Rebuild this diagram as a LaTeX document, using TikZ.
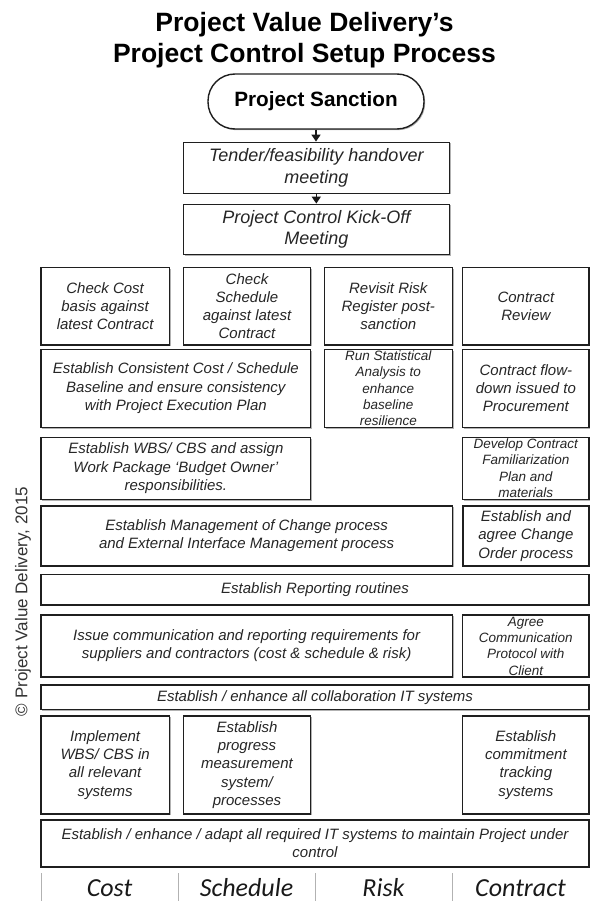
\documentclass[tikz,border=0pt]{standalone}
\usepackage{fontspec}
\setmainfont{Liberation Sans}
\newfontfamily\calib{Carlito}
\usetikzlibrary{shadows,arrows.meta}
\newcommand\mkbox[7]{%
  \pgfmathsetmacro\mkbw{#5-#3}\pgfmathsetmacro\mkbh{#6-#4}%
  \pgfmathsetmacro\mkcx{(#3+#5)/2}\pgfmathsetmacro\mkcy{(#4+#6)/2}%
  \node[#1, minimum width=\mkbw pt, minimum height=\mkbh pt] (#2) at (\mkcx,\mkcy) {#7};}
\begin{document}
\begin{tikzpicture}[x=1pt,y=-1pt,
  shd/.style={drop shadow={shadow xshift=1.2pt, shadow yshift=-1.2pt, fill=black, opacity=0.3}},
  bx/.style={draw=black!88, line width=1.4pt, fill=white, inner sep=0pt, align=center, text=black!85,
     font=\fontsize{15}{18.2}\selectfont\itshape, shd},
  thick bx/.style={bx, line width=2pt},
  thin bx/.style={bx, line width=1.1pt},
  big bx/.style={bx, font=\fontsize{18}{21.7}\selectfont\itshape},
  oval/.style={draw=black!88, line width=1.4pt, fill=white, rounded corners=27pt, inner sep=0pt, shd,
     font=\fontsize{20.7}{24}\selectfont\bfseries},
  smalltxt/.style={align=center, inner sep=0pt, text=black!85, font=\fontsize{13.5}{16.3}\selectfont\itshape},
  arr/.style={line width=1.5pt, draw=black!90, -{Triangle[length=7pt,width=9pt]}},
  lbl/.style={font=\calib\fontsize{26}{30}\selectfont\itshape, text=black!90, anchor=base},
  sepline/.style={draw=black!30, line width=1pt},
  ttl/.style={font=\fontsize{26.5}{31}\selectfont\bfseries, text=black, anchor=base}
]
\useasboundingbox (0,0) rectangle (590,901);

% title
\node[ttl] (t1) at (304.5,31.7) {Project Value Delivery’s};
\node[ttl] (t2) at (304.5,63) {Project Control Setup Process};

% start
\mkbox{oval}{sanc}{208}{74}{424}{129}{Project Sanction}
\mkbox{big bx}{tender}{183.3}{142.3}{449.3}{193.3}{Tender/feasibility handover\\meeting}
\mkbox{big bx}{kick}{183.3}{204.3}{449.3}{254.3}{Project Control Kick-Off\\Meeting}
\draw[arr] (sanc.south) -- (sanc.south |- tender.north);
\draw[arr] (tender.south) -- (kick.north);

% row 1
\mkbox{bx}{r1a}{41}{267.5}{169.3}{345}{Check Cost\\basis against\\latest Contract}
\mkbox{bx}{r1b}{183.3}{267.5}{310.7}{345}{Check\\Schedule\\against latest\\Contract}
\mkbox{bx}{r1c}{324.3}{267.5}{452.3}{345}{Revisit Risk\\Register post-\\sanction}
\mkbox{bx}{r1d}{462.7}{267.5}{589}{345}{Contract\\Review}

% row 2
\mkbox{bx}{r2a}{41}{349.3}{310.7}{427.3}{Establish Consistent Cost / Schedule\\Baseline and ensure consistency\\with Project Execution Plan}
\mkbox{bx}{r2c}{324.3}{349.3}{452.3}{427.3}{}
\node[smalltxt] (r2ct) at (r2c.center) {Run Statistical\\Analysis to\\enhance\\baseline\\resilience};
\mkbox{bx}{r2d}{462.7}{349.3}{589}{427.3}{Contract flow-\\down issued to\\Procurement}

% row 3
\mkbox{bx}{r3a}{41}{437.3}{310.7}{499.3}{Establish WBS/ CBS and assign\\Work Package ‘Budget Owner’\\responsibilities.}
\mkbox{thin bx}{r3d}{462.7}{437.3}{589}{499.3}{}
\node[smalltxt] (r3dt) at (r3d.center) {Develop Contract\\Familiarization\\Plan and\\materials};

% row 4
\mkbox{bx}{r4a}{41}{506}{452.3}{566}{Establish Management of Change process\\and External Interface Management process}
\mkbox{thick bx}{r4d}{462.7}{506}{589}{566}{Establish and\\agree Change\\Order process}

% row 5
\mkbox{bx}{r5}{41}{574.3}{589}{605}{Establish Reporting routines}

% row 6
\mkbox{bx}{r6a}{41}{615}{452.3}{677}{Issue communication and reporting requirements for\\suppliers and contractors (cost \& schedule \& risk)}
\mkbox{thin bx}{r6d}{462.7}{615}{589}{677}{}
\node[smalltxt] (r6dt) at (r6d.center) {Agree\\Communication\\Protocol with\\Client};

% row 7
\mkbox{bx}{r7}{41}{685}{589}{709.3}{Establish / enhance all collaboration IT systems}

% row 8
\mkbox{bx}{r8a}{41}{716}{169.3}{814}{Implement\\WBS/ CBS in\\all relevant\\systems}
\mkbox{bx}{r8b}{183.3}{716}{310.7}{814}{Establish\\progress\\measurement\\system/\\processes}
\mkbox{bx}{r8d}{462.7}{716}{589}{814}{Establish\\commitment\\tracking\\systems}

% row 9
\mkbox{thick bx}{r9}{41}{820}{589}{867}{Establish / enhance / adapt all required IT systems to maintain Project under\\control}

% column labels
\coordinate (s1) at (41,873); \coordinate (s2) at (178,873);
\coordinate (s3) at (315,873); \coordinate (s4) at (452,873);
\foreach \s in {s1,s2,s3,s4} \draw[sepline] (\s) -- ++(0,28);
\node[lbl] (lc) at (109.5,896) {Cost};
\node[lbl] (ls) at (246.5,896) {Schedule};
\node[lbl] (lr) at (383.5,896) {Risk};
\node[lbl] (lk) at (520.5,896) {Contract};

% copyright
\node[rotate=90, font=\fontsize{17}{20}\selectfont, text=black!80] (copy) at (23,601.5) {© Project Value Delivery, 2015};
\end{tikzpicture}
\end{document}
